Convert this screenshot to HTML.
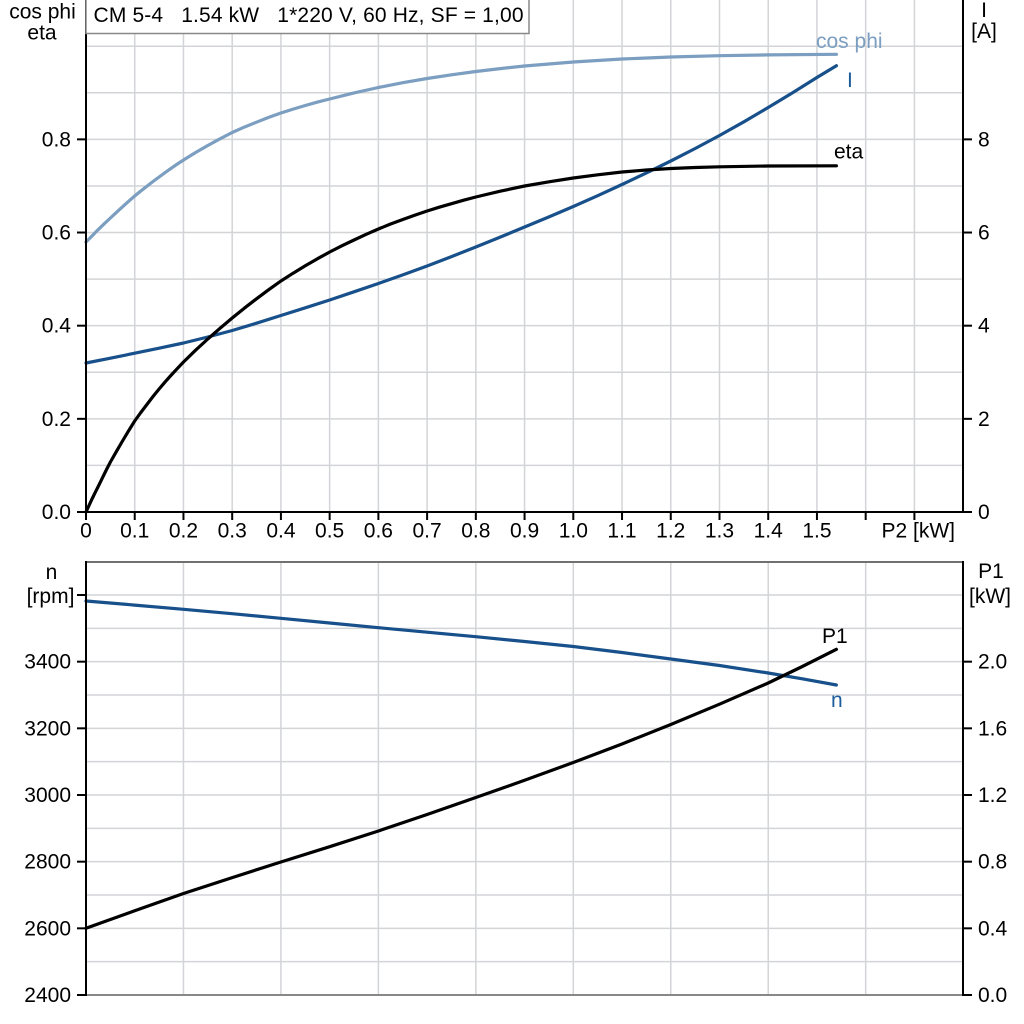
<!DOCTYPE html>
<html>
<head>
<meta charset="utf-8">
<style>
  html,body{margin:0;padding:0;background:#fff;}
  svg{display:block;}
  text{font-family:"Liberation Sans",Arial,sans-serif;font-size:21px;fill:#000;}
</style>
</head>
<body>
<svg width="1024" height="1024" viewBox="0 0 1024 1024" xmlns="http://www.w3.org/2000/svg">
  <rect x="0" y="0" width="1024" height="1024" fill="#fff"/>

  <!-- ===== TOP CHART GRID ===== -->
  <g stroke="#d2d4d7" stroke-width="1.5" fill="none">
    <line x1="134.73" y1="0" x2="134.73" y2="512"/>
    <line x1="183.46" y1="0" x2="183.46" y2="512"/>
    <line x1="232.19" y1="0" x2="232.19" y2="512"/>
    <line x1="280.92" y1="0" x2="280.92" y2="512"/>
    <line x1="329.65" y1="0" x2="329.65" y2="512"/>
    <line x1="378.38" y1="0" x2="378.38" y2="512"/>
    <line x1="427.11" y1="0" x2="427.11" y2="512"/>
    <line x1="475.84" y1="0" x2="475.84" y2="512"/>
    <line x1="524.57" y1="0" x2="524.57" y2="512"/>
    <line x1="573.3" y1="0" x2="573.3" y2="512"/>
    <line x1="622.03" y1="0" x2="622.03" y2="512"/>
    <line x1="670.76" y1="0" x2="670.76" y2="512"/>
    <line x1="719.49" y1="0" x2="719.49" y2="512"/>
    <line x1="768.22" y1="0" x2="768.22" y2="512"/>
    <line x1="816.95" y1="0" x2="816.95" y2="512"/>
    <line x1="865.68" y1="0" x2="865.68" y2="512"/>
    <line x1="914.41" y1="0" x2="914.41" y2="512"/>

    <line x1="86" y1="465.42" x2="963" y2="465.42"/>
    <line x1="86" y1="418.84" x2="963" y2="418.84"/>
    <line x1="86" y1="372.26" x2="963" y2="372.26"/>
    <line x1="86" y1="325.68" x2="963" y2="325.68"/>
    <line x1="86" y1="279.1" x2="963" y2="279.1"/>
    <line x1="86" y1="232.52" x2="963" y2="232.52"/>
    <line x1="86" y1="185.94" x2="963" y2="185.94"/>
    <line x1="86" y1="139.36" x2="963" y2="139.36"/>
    <line x1="86" y1="92.78" x2="963" y2="92.78"/>
    <line x1="86" y1="46.2" x2="963" y2="46.2"/>
  </g>

  <!-- ===== BOTTOM CHART GRID ===== -->
  <g stroke="#d2d4d7" stroke-width="1.5" fill="none">
    <line x1="183.46" y1="562" x2="183.46" y2="995"/>
    <line x1="280.92" y1="562" x2="280.92" y2="995"/>
    <line x1="378.38" y1="562" x2="378.38" y2="995"/>
    <line x1="475.84" y1="562" x2="475.84" y2="995"/>
    <line x1="573.3" y1="562" x2="573.3" y2="995"/>
    <line x1="670.76" y1="562" x2="670.76" y2="995"/>
    <line x1="768.22" y1="562" x2="768.22" y2="995"/>
    <line x1="865.68" y1="562" x2="865.68" y2="995"/>

    <line x1="86" y1="961.67" x2="963" y2="961.67"/>
    <line x1="86" y1="928.33" x2="963" y2="928.33"/>
    <line x1="86" y1="895" x2="963" y2="895"/>
    <line x1="86" y1="861.67" x2="963" y2="861.67"/>
    <line x1="86" y1="828.33" x2="963" y2="828.33"/>
    <line x1="86" y1="795" x2="963" y2="795"/>
    <line x1="86" y1="761.67" x2="963" y2="761.67"/>
    <line x1="86" y1="728.33" x2="963" y2="728.33"/>
    <line x1="86" y1="695" x2="963" y2="695"/>
    <line x1="86" y1="661.67" x2="963" y2="661.67"/>
    <line x1="86" y1="628.33" x2="963" y2="628.33"/>
    <line x1="86" y1="595" x2="963" y2="595"/>
  </g>

  <!-- ===== TOP CHART CURVES ===== -->
  <g fill="none" stroke-width="3.2" stroke-linejoin="round" stroke-linecap="round">
    <!-- cos phi -->
    <polyline stroke="#7b9ec1" points="86,242 92,236 98,229.8 104.2,223.8 110.4,218 116.5,212.3 122.5,206.8 128.6,201.3 134.7,196 140.8,191 146.9,186.2 153,181.5 159.1,177 165.2,172.5 171.3,168.2 177.4,164 183.5,160 195.6,152.5 207.8,145.5 220,138.8 232.2,132.5 244.3,127.1 256.5,122.2 268.7,117.4 280.9,113 293.1,109.1 305.3,105.5 317.5,102.1 329.7,99 354,92.9 378.4,87.5 402.8,82.7 427.1,78.5 451.5,74.8 475.8,71.5 500.2,68.6 524.6,66 573.3,62 622,59 670.8,57 719.5,55.7 768.2,54.9 836.4,54.3"/>
    <!-- I -->
    <polyline stroke="#17508a" points="86,363 110.4,358.2 134.7,353.2 159.1,348.2 183.5,343 207.8,337 232.2,330.5 256.5,323.2 280.9,315.5 305.3,307.8 329.7,300 354,291.8 378.4,283.5 402.8,274.9 427.1,266 451.5,256.6 475.8,247 500.2,237.1 524.6,227 549,216.9 573.3,206.5 597.7,195.7 622,184.5 646.4,172.9 670.8,161 695.2,148.5 719.5,135.5 743.9,121.8 768.2,107.5 792.6,92.8 816.9,77.5 836.4,65.7"/>
    <!-- eta -->
    <polyline stroke="#000" points="86,512 89,505.5 92,499 95.1,492.7 98.2,486.5 101.3,480.2 104.3,474 107.3,468 110.4,462 116.5,451.3 122.5,441 128.6,430.8 134.7,421 140.8,412.5 146.9,404.5 153,396.5 159.1,389 165.2,381.8 171.3,375 177.4,368.4 183.5,362 195.6,350.2 207.8,339 220,328.3 232.2,318 244.3,308.2 256.5,298.8 268.7,289.7 280.9,281 293.1,273.2 305.3,265.8 317.5,258.7 329.7,252 341.8,245.8 354,240 366.2,234.3 378.4,229 390.6,224 402.8,219.5 415,215.1 427.1,211 439.3,207.2 451.5,203.7 463.7,200.2 475.8,197 500.2,191.2 524.6,186 549,181.8 573.3,178 597.7,174.8 622,172 646.4,170 670.8,168.5 695.2,167.5 719.5,166.8 768.2,166 836.4,165.8"/>
  </g>

  <!-- ===== BOTTOM CHART CURVES ===== -->
  <g fill="none" stroke-width="3.2" stroke-linejoin="round" stroke-linecap="round">
    <!-- n -->
    <polyline stroke="#17508a" points="86,601 134.7,605.1 183.5,609.3 232.2,613.7 280.9,618.3 329.7,623 378.4,627.7 427.1,632.2 475.8,636.7 524.6,641.5 573.3,646.5 622,652.5 670.8,659 719.5,665.5 768.2,673 802.3,678.8 836.4,685"/>
    <!-- P1 -->
    <polyline stroke="#000" points="86,928.3 134.7,910.8 183.5,893.5 232.2,877.6 280.9,862 329.7,846.7 378.4,831 427.1,814.5 475.8,797.5 524.6,780.3 573.3,762.5 622,744 670.8,724.5 719.5,704.2 768.2,683 802.3,666.5 836.4,649.3"/>
  </g>

  <!-- ===== TOP AXES ===== -->
  <g stroke="#000" stroke-width="2" fill="none">
    <line x1="86" y1="0" x2="86" y2="513"/>
    <line x1="963" y1="0" x2="963" y2="513"/>
    <line x1="77" y1="512" x2="972" y2="512"/>
    <line x1="77" y1="418.84" x2="86" y2="418.84"/>
    <line x1="77" y1="325.68" x2="86" y2="325.68"/>
    <line x1="77" y1="232.52" x2="86" y2="232.52"/>
    <line x1="77" y1="139.36" x2="86" y2="139.36"/>
    <line x1="963" y1="418.84" x2="972" y2="418.84"/>
    <line x1="963" y1="325.68" x2="972" y2="325.68"/>
    <line x1="963" y1="232.52" x2="972" y2="232.52"/>
    <line x1="963" y1="139.36" x2="972" y2="139.36"/>
    <line x1="86" y1="512" x2="86" y2="520"/>
    <line x1="134.73" y1="512" x2="134.73" y2="520"/>
    <line x1="183.46" y1="512" x2="183.46" y2="520"/>
    <line x1="232.19" y1="512" x2="232.19" y2="520"/>
    <line x1="280.92" y1="512" x2="280.92" y2="520"/>
    <line x1="329.65" y1="512" x2="329.65" y2="520"/>
    <line x1="378.38" y1="512" x2="378.38" y2="520"/>
    <line x1="427.11" y1="512" x2="427.11" y2="520"/>
    <line x1="475.84" y1="512" x2="475.84" y2="520"/>
    <line x1="524.57" y1="512" x2="524.57" y2="520"/>
    <line x1="573.3" y1="512" x2="573.3" y2="520"/>
    <line x1="622.03" y1="512" x2="622.03" y2="520"/>
    <line x1="670.76" y1="512" x2="670.76" y2="520"/>
    <line x1="719.49" y1="512" x2="719.49" y2="520"/>
    <line x1="768.22" y1="512" x2="768.22" y2="520"/>
    <line x1="816.95" y1="512" x2="816.95" y2="520"/>
    <line x1="865.68" y1="512" x2="865.68" y2="520"/>
    <line x1="914.41" y1="512" x2="914.41" y2="520"/>
  </g>

  <!-- ===== BOTTOM AXES ===== -->
  <line x1="86" y1="562" x2="963" y2="562" stroke="#707070" stroke-width="2"/>
  <line x1="86" y1="995" x2="963" y2="995" stroke="#888" stroke-width="2"/>
  <g stroke="#000" stroke-width="2" fill="none">
    <line x1="86" y1="561" x2="86" y2="996"/>
    <line x1="963" y1="561" x2="963" y2="996"/>
    <line x1="77" y1="995" x2="86" y2="995"/>
    <line x1="77" y1="928.33" x2="86" y2="928.33"/>
    <line x1="77" y1="861.67" x2="86" y2="861.67"/>
    <line x1="77" y1="795" x2="86" y2="795"/>
    <line x1="77" y1="728.33" x2="86" y2="728.33"/>
    <line x1="77" y1="661.67" x2="86" y2="661.67"/>
    <line x1="77" y1="595" x2="86" y2="595"/>
    <line x1="963" y1="995" x2="972" y2="995"/>
    <line x1="963" y1="928.33" x2="972" y2="928.33"/>
    <line x1="963" y1="861.67" x2="972" y2="861.67"/>
    <line x1="963" y1="795" x2="972" y2="795"/>
    <line x1="963" y1="728.33" x2="972" y2="728.33"/>
    <line x1="963" y1="661.67" x2="972" y2="661.67"/>
  </g>

  <!-- ===== TITLE BOX ===== -->
  <rect x="86" y="-1" width="443" height="34.5" fill="#fff" stroke="#888" stroke-width="1.5"/>
  <text x="93.5" y="22" textLength="430" lengthAdjust="spacing" xml:space="preserve">CM 5-4   1.54 kW   1*220 V, 60 Hz, SF = 1,00</text>

  <!-- ===== TOP LABELS ===== -->
  <text x="42.5" y="18.5" text-anchor="middle">cos phi</text>
  <text x="42" y="39.5" text-anchor="middle">eta</text>
  <text x="984" y="17" text-anchor="middle">I</text>
  <text x="984" y="38" text-anchor="middle">[A]</text>

  <g text-anchor="end">
    <text x="71" y="519">0.0</text>
    <text x="71" y="425.8">0.2</text>
    <text x="71" y="332.7">0.4</text>
    <text x="71" y="239.5">0.6</text>
    <text x="71" y="146.4">0.8</text>
  </g>
  <g text-anchor="start">
    <text x="978" y="519">0</text>
    <text x="978" y="425.8">2</text>
    <text x="978" y="332.7">4</text>
    <text x="978" y="239.5">6</text>
    <text x="978" y="146.4">8</text>
  </g>
  <g text-anchor="middle">
    <text x="86" y="537.5">0</text>
    <text x="134.73" y="537.5">0.1</text>
    <text x="183.46" y="537.5">0.2</text>
    <text x="232.19" y="537.5">0.3</text>
    <text x="280.92" y="537.5">0.4</text>
    <text x="329.65" y="537.5">0.5</text>
    <text x="378.38" y="537.5">0.6</text>
    <text x="427.11" y="537.5">0.7</text>
    <text x="475.84" y="537.5">0.8</text>
    <text x="524.57" y="537.5">0.9</text>
    <text x="573.3" y="537.5">1.0</text>
    <text x="622.03" y="537.5">1.1</text>
    <text x="670.76" y="537.5">1.2</text>
    <text x="719.49" y="537.5">1.3</text>
    <text x="768.22" y="537.5">1.4</text>
    <text x="816.95" y="537.5">1.5</text>
  </g>
  <text x="955" y="537.5" text-anchor="end">P2 [kW]</text>

  <!-- curve labels top -->
  <text x="816" y="48" style="fill:#7b9ec1">cos phi</text>
  <text x="847" y="87" style="fill:#1d5c9c">I</text>
  <text x="834" y="158.5">eta</text>

  <!-- ===== BOTTOM LABELS ===== -->
  <text x="51.5" y="579" text-anchor="middle">n</text>
  <text x="50.5" y="603" text-anchor="middle">[rpm]</text>
  <text x="991" y="578" text-anchor="middle">P1</text>
  <text x="990" y="603" text-anchor="middle">[kW]</text>

  <g text-anchor="end">
    <text x="71" y="1002">2400</text>
    <text x="71" y="935.3">2600</text>
    <text x="71" y="868.7">2800</text>
    <text x="71" y="802">3000</text>
    <text x="71" y="735.3">3200</text>
    <text x="71" y="668.7">3400</text>
  </g>
  <g text-anchor="start">
    <text x="978" y="1002">0.0</text>
    <text x="978" y="935.3">0.4</text>
    <text x="978" y="868.7">0.8</text>
    <text x="978" y="802">1.2</text>
    <text x="978" y="735.3">1.6</text>
    <text x="978" y="668.7">2.0</text>
  </g>

  <text x="822" y="643">P1</text>
  <text x="831" y="707" style="fill:#1d5c9c">n</text>
</svg>
</body>
</html>
